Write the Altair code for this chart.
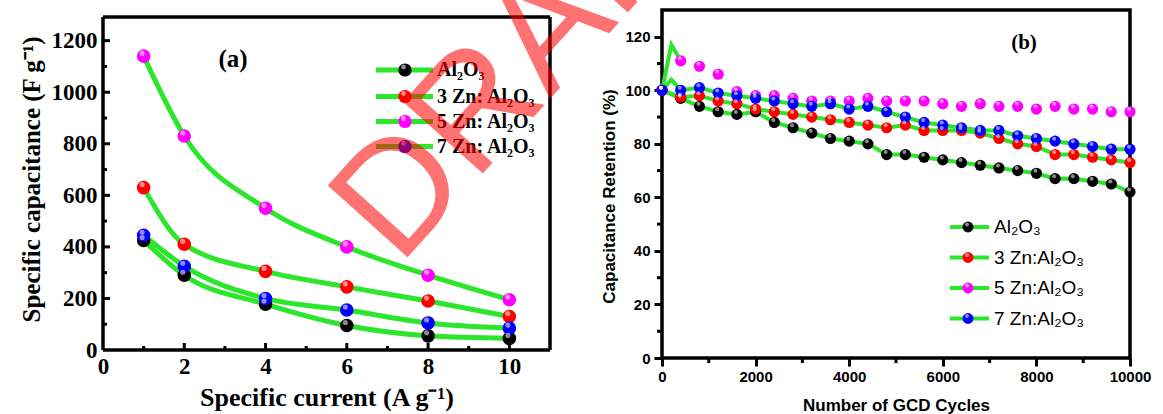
import altair as alt
import pandas as pd

# ---------------- (a) specific capacitance vs. specific current ----------------
current = [1, 2, 4, 6, 8, 10]
cap_al2o3 = [425, 290, 178, 95, 55, 45]
cap_3zn = [630, 410, 305, 245, 190, 130]
cap_5zn = [1140, 830, 550, 400, 290, 195]
cap_7zn = [445, 325, 200, 155, 105, 85]

names_a = ["Al₂O₃", "3 Zn: Al₂O₃", "5 Zn: Al₂O₃", "7 Zn: Al₂O₃"]

# ---------------- (b) capacitance retention vs. GCD cycles ----------------
cycles = [0, 400, 800, 1200, 1600, 2000, 2400, 2800, 3200, 3600, 4000, 4400, 4800,
          5200, 5600, 6000, 6400, 6800, 7200, 7600, 8000, 8400, 8800, 9200, 9600, 10000]
ret_al2o3 = [100, 97, 94, 92, 91, 92, 88, 86, 84, 82, 81, 80, 76,
             76, 75, 74, 73, 72, 71, 70, 69, 67, 67, 66, 65, 62]
ret_3zn = [100, 97.5, 98, 96, 95, 93, 92, 91, 90, 89, 88, 87, 86,
           87, 85, 85, 85, 84, 82, 80, 79, 76, 76, 75, 74, 73]
ret_5zn = [100, 111, 109, 106, 99.5, 98, 98, 97, 96, 96, 96, 97, 96,
           96, 96, 95, 94, 95, 94, 94, 93, 94, 93, 93, 92, 92]
ret_7zn = [100, 100, 101, 99, 98, 97, 96, 95, 94, 95, 93, 94, 92,
           90, 88, 87, 86, 85, 85, 83, 82, 81, 80, 79, 78, 78]
# unmarked line points between the first two cycles
spike_cycle = [200]
spike_5zn = [117]
spike_7zn = [104]

names_b = ["Al₂O₃", "3 Zn:Al₂O₃", "5 Zn:Al₂O₃", "7 Zn:Al₂O₃"]

# one key per sample, shared by both panels
sample_keys = ["Al2O3", "3Zn", "5Zn", "7Zn"]
ball_colors = ["#000000", "#ff0000", "#ff00ff", "#0000ff"]

GREEN = "#2be62b"
SERIF = "Liberation Serif"
SANS = "Liberation Sans"


def long_frame(xs_list, ys_list):
    rows = []
    for xs, ys, key in zip(xs_list, ys_list, sample_keys):
        for x, y in zip(xs, ys):
            rows.append({"x": x, "y": y, "s": key})
    return pd.DataFrame(rows)


def one_row():
    return pd.DataFrame({"k": [0]})


color_enc = alt.Color("s:N", scale=alt.Scale(domain=sample_keys, range=ball_colors), legend=None)

# ============================ panel (a) ============================
W_A, H_A = 447, 340
Y_TOP_A = 1292          # top edge of the frame in data units
pts_a = long_frame([current] * 4, [cap_al2o3, cap_3zn, cap_5zn, cap_7zn])

x_a = alt.X("x:Q", scale=alt.Scale(domain=[0, 11], nice=False, zero=False),
            axis=alt.Axis(values=[0, 2, 4, 6, 8, 10], format="d", ticks=False, domain=False,
                          grid=False,
                          labelFont=SERIF, labelFontWeight="bold", labelFontSize=23,
                          labelColor="black", labelPadding=5, labelFlush=False,
                          labelOverlap=False,
                          title="Specific current (A g⁻¹)", titleFont=SERIF,
                          titleFontWeight="bold", titleFontSize=26, titleColor="black",
                          titleY=55, titleBaseline="alphabetic"))
y_a = alt.Y("y:Q", scale=alt.Scale(domain=[0, 1319], nice=False, zero=False),
            axis=alt.Axis(values=[0, 200, 400, 600, 800, 1000, 1200], format="d", ticks=False,
                          domain=False, grid=False,
                          labelFont=SERIF, labelFontWeight="bold", labelFontSize=23,
                          labelColor="black", labelPadding=6, labelFlush=False,
                          labelOverlap=False,
                          title="Specific capacitance (F g⁻¹)", titleFont=SERIF,
                          titleFontWeight="bold", titleFontSize=25, titleColor="black",
                          titleX=-64, titleY=169, titleBaseline="alphabetic"))

lines_a = alt.Chart(pts_a).mark_line(color=GREEN, strokeWidth=5, interpolate="monotone").encode(
    x=x_a, y=y_a, detail="s:N")
balls_a = alt.Chart(pts_a).mark_circle(size=185, opacity=1).encode(x=x_a, y=y_a, color=color_enc)
shine_a = alt.Chart(pts_a).mark_circle(size=26, color="white", opacity=0.55,
                                       xOffset=-1.5, yOffset=-3).encode(x=x_a, y=y_a)

# frame
frame_a = [
    alt.Chart(pd.DataFrame({"x": [0], "x2": [11], "y": [Y_TOP_A]})).mark_rule(
        color="black", strokeWidth=3.5).encode(x=x_a, x2="x2:Q", y=y_a),
    alt.Chart(pd.DataFrame({"x": [0], "x2": [11], "y": [0]})).mark_rule(
        color="black", strokeWidth=3.5).encode(x=x_a, x2="x2:Q", y=y_a),
    alt.Chart(pd.DataFrame({"x": [0], "y": [0], "y2": [Y_TOP_A]})).mark_rule(
        color="black", strokeWidth=3.5).encode(x=x_a, y=y_a, y2="y2:Q"),
    alt.Chart(pd.DataFrame({"x": [11], "y": [0], "y2": [Y_TOP_A]})).mark_rule(
        color="black", strokeWidth=3.5).encode(x=x_a, y=y_a, y2="y2:Q"),
]
# inward ticks
ticks_a = [
    alt.Chart(pd.DataFrame({"x": [2, 4, 6, 8, 10]})).mark_rule(color="black", strokeWidth=3).encode(
        x=x_a, y=alt.value(H_A), y2=alt.value(H_A - 7)),
    alt.Chart(pd.DataFrame({"x": [1, 3, 5, 7, 9]})).mark_rule(color="black", strokeWidth=3).encode(
        x=x_a, y=alt.value(H_A), y2=alt.value(H_A - 4)),
    alt.Chart(pd.DataFrame({"y": [200, 400, 600, 800, 1000, 1200]})).mark_rule(
        color="black", strokeWidth=3).encode(y=y_a, x=alt.value(0), x2=alt.value(7)),
    alt.Chart(pd.DataFrame({"y": [100, 300, 500, 700, 900, 1100]})).mark_rule(
        color="black", strokeWidth=3).encode(y=y_a, x=alt.value(0), x2=alt.value(4)),
]

label_a = alt.Chart(pd.DataFrame({"t": ["(a)"]})).mark_text(
    font=SERIF, fontWeight="bold", fontSize=25, color="black", baseline="middle").encode(
    text="t:N", x=alt.value(130), y=alt.value(49))

legend_a = []
rows_a = [60, 86.5, 111.5, 136.5]
for name, col, ry in zip(names_a, ball_colors, rows_a):
    legend_a.append(alt.Chart(one_row()).mark_rule(color=GREEN, strokeWidth=5).encode(
        x=alt.value(273), x2=alt.value(330), y=alt.value(ry)))
    legend_a.append(alt.Chart(one_row()).mark_circle(size=175, color=col, opacity=1).encode(
        x=alt.value(302), y=alt.value(ry)))
    legend_a.append(alt.Chart(one_row()).mark_circle(size=24, color="white", opacity=0.55).encode(
        x=alt.value(300.5), y=alt.value(ry - 3)))
    legend_a.append(alt.Chart(pd.DataFrame({"t": [name]})).mark_text(
        font=SERIF, fontWeight="bold", fontSize=20, color="black", align="left",
        baseline="middle").encode(text="t:N", x=alt.value(334), y=alt.value(ry)))

chart_a = alt.layer(lines_a, balls_a, shine_a, *frame_a, *ticks_a, label_a, *legend_a).properties(
    width=W_A, height=H_A, view=alt.ViewBackground(stroke="transparent"))

# ============================ panel (b) ============================
W_B, H_B = 468, 348
pts_b = long_frame([cycles] * 4, [ret_al2o3, ret_3zn, ret_5zn, ret_7zn])
line_b = long_frame(
    [cycles, cycles, cycles[:2] + spike_cycle, cycles + spike_cycle],
    [ret_al2o3, ret_3zn, ret_5zn[:2] + spike_5zn, ret_7zn + spike_7zn])

x_b = alt.X("x:Q", scale=alt.Scale(domain=[0, 10000], nice=False, zero=False),
            axis=alt.Axis(values=[0, 2000, 4000, 6000, 8000, 10000], format="d", tickSize=8,
                          tickWidth=3, tickColor="black", domain=False, grid=False,
                          labelFont=SANS, labelFontWeight="bold", labelFontSize=15,
                          labelColor="black", labelPadding=3, labelFlush=False,
                          labelOverlap=False,
                          title="Number of GCD Cycles", titleFont=SANS, titleFontWeight="bold",
                          titleFontSize=17, titleColor="black", titleY=52,
                          titleBaseline="alphabetic"))
y_b = alt.Y("y:Q", scale=alt.Scale(domain=[0, 130], nice=False, zero=False),
            axis=alt.Axis(values=[0, 20, 40, 60, 80, 100, 120], format="d", tickSize=8,
                          tickWidth=3, tickColor="black", domain=False, grid=False,
                          labelFont=SANS, labelFontWeight="bold", labelFontSize=15,
                          labelColor="black", labelPadding=4, labelFlush=False,
                          labelOverlap=False,
                          title="Capacitance Retention (%)", titleFont=SANS,
                          titleFontWeight="bold", titleFontSize=17, titleColor="black",
                          titleX=-48, titleY=186, titleBaseline="alphabetic"))

lines_b = alt.Chart(line_b).mark_line(color=GREEN, strokeWidth=4).encode(
    x=x_b, y=y_b, detail="s:N")
balls_b = alt.Chart(pts_b).mark_circle(size=125, opacity=1).encode(x=x_b, y=y_b, color=color_enc)
shine_b = alt.Chart(pts_b).mark_circle(size=16, color="white", opacity=0.55,
                                       xOffset=-1, yOffset=-2.5).encode(x=x_b, y=y_b)

minor_b = [
    alt.Chart(pd.DataFrame({"x": [1000, 3000, 5000, 7000, 9000]})).mark_rule(
        color="black", strokeWidth=3).encode(x=x_b, y=alt.value(H_B), y2=alt.value(H_B + 5)),
    alt.Chart(pd.DataFrame({"y": [10, 30, 50, 70, 90, 110]})).mark_rule(
        color="black", strokeWidth=3).encode(y=y_b, x=alt.value(-5), x2=alt.value(0)),
]

label_b = alt.Chart(pd.DataFrame({"t": ["(b)"]})).mark_text(
    font=SERIF, fontWeight="bold", fontSize=21, color="black", baseline="middle").encode(
    text="t:N", x=alt.value(362), y=alt.value(33))

legend_b = []
rows_b = [217, 247.5, 278, 308.5]
for name, col, ry in zip(names_b, ball_colors, rows_b):
    legend_b.append(alt.Chart(one_row()).mark_rule(color=GREEN, strokeWidth=4).encode(
        x=alt.value(288), x2=alt.value(327), y=alt.value(ry)))
    legend_b.append(alt.Chart(one_row()).mark_circle(size=120, color=col, opacity=1).encode(
        x=alt.value(306), y=alt.value(ry)))
    legend_b.append(alt.Chart(one_row()).mark_circle(size=16, color="white", opacity=0.55).encode(
        x=alt.value(305), y=alt.value(ry - 2.5)))
    legend_b.append(alt.Chart(pd.DataFrame({"t": [name]})).mark_text(
        font=SANS, fontSize=19, color="black", align="left", baseline="middle").encode(
        text="t:N", x=alt.value(332), y=alt.value(ry)))

stamp = alt.Chart(pd.DataFrame({"t": ["DRAFT"]})).mark_text(
    font=SANS, fontSize=156, color="#ff0000", opacity=0.55, angle=312,
    align="center", baseline="middle").encode(text="t:N", x=alt.value(-124), y=alt.value(32))

chart_b = alt.layer(lines_b, balls_b, shine_b, *minor_b, label_b, *legend_b, stamp).properties(
    width=W_B, height=H_B, view=alt.ViewBackground(stroke="black", strokeWidth=3.5))

chart = alt.hconcat(chart_a, chart_b, spacing=112, bounds="flush").properties(
    autosize=alt.AutoSizeParams(type="none"),
    padding={"left": 103, "top": 10, "right": 1060, "bottom": 404},
    background="white",
)

chart.save("out.html", embed_options={"renderer": "svg", "actions": False})
